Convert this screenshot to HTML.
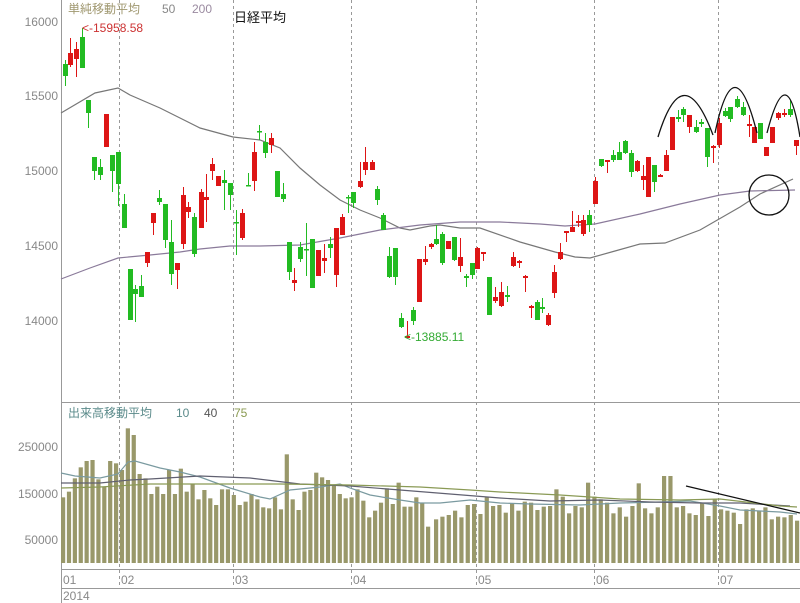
<!DOCTYPE html>
<html><head><meta charset="utf-8"><style>
html,body{margin:0;padding:0;background:#fff;}
svg{display:block;font-family:"Liberation Sans","Noto Sans CJK JP",sans-serif;}
</style></head><body>
<svg id="s" width="800" height="603" viewBox="0 0 800 603" xmlns="http://www.w3.org/2000/svg">
<rect width="800" height="603" fill="#fff"/>
<g stroke="#999" stroke-width="1" fill="none">
<line x1="61.5" y1="0" x2="61.5" y2="603"/>
<line x1="61" y1="402.5" x2="800" y2="402.5"/>
<line x1="61" y1="569.5" x2="800" y2="569.5"/>
<line x1="61" y1="588.5" x2="800" y2="588.5"/>
</g>
<g fill="#888" font-size="12" text-anchor="end">
<text x="58" y="26">16000</text><text x="58" y="100">15500</text><text x="58" y="175">15000</text>
<text x="58" y="250">14500</text><text x="58" y="325">14000</text>
<text x="58" y="451">250000</text><text x="58" y="498">150000</text><text x="58" y="544">50000</text>
</g>
<g fill="#888" font-size="12">
<text x="63" y="584">01</text><text x="121" y="584">02</text><text x="235" y="584">03</text>
<text x="353" y="584">04</text><text x="478" y="584">05</text><text x="596" y="584">06</text><text x="720" y="584">07</text>
<text x="63" y="600">2014</text>
</g>
<g id="grid" stroke="#999" stroke-dasharray="3,3" stroke-width="1"></g>
<g id="vol"></g>
<g id="vma" fill="none" stroke-width="1.2"></g>
<g id="pma" fill="none" stroke-width="1.2"></g>
<g id="cdl"></g>
<g fill="none" stroke="#111" stroke-width="1.3">
<path d="M658,137 Q683,55 713,135"/>
<path d="M715,133 Q734,42 757,133"/>
<path d="M767,133 Q787,55 800,137"/>
<circle cx="769" cy="195" r="20"/>
<line x1="686" y1="486" x2="800" y2="513"/>
</g>
<text x="68" y="13" font-size="12" fill="#a09870">単純移動平均</text>
<text x="162" y="13" font-size="12" fill="#888">50</text>
<text x="192" y="13" font-size="12" fill="#9a8aa0">200</text>
<text x="234" y="22" font-size="13" fill="#111">日経平均</text>
<text x="82" y="32" font-size="12" fill="#cc3333">&lt;-15958.58</text>
<text x="404" y="341" font-size="12" fill="#33aa33">&lt;-13885.11</text>
<text x="68" y="417" font-size="12" fill="#5a8a8a">出来高移動平均</text>
<text x="176" y="417" font-size="12" fill="#5a8a8a">10</text>
<text x="204" y="417" font-size="12" fill="#555">40</text>
<text x="234" y="417" font-size="12" fill="#8a9a50">75</text>
</svg>
<script>
var NS="http://www.w3.org/2000/svg";
function el(p,t,a){var e=document.createElementNS(NS,t);for(var k in a)e.setAttribute(k,a[k]);document.getElementById(p).appendChild(e);return e;}
[119,233,351,476,594,718].forEach(function(x){el("grid","line",{x1:x+.5,y1:0,x2:x+.5,y2:588});});
var C=[[65,64,76,60,86,"g"],[70,53,65,38,67,"r"],[76,49,59,42,77,"r"],[82,37,68,28,68,"g"],
[88,100,113,100,128,"g"],[94,157,171,157,180,"g"],[100,167,175,159,180,"g"],[106,114,147,114,147,"r"],[112,155,171,155,192,"g"],[118,152,184,152,206,"g"],[124,204,228,194,228,"g"],[130,269,320,269,320,"g"],[135,289,294,285,322,"g"],[141,286,297,275,297,"g"],[147,252,263,252,267,"r"],[153,213,223,213,235,"r"],[159,198,202,190,205,"g"],[165,204,240,204,248,"g"],[171,242,274,220,285,"g"],[177,263,270,263,289,"r"],[183,195,244,187,249,"r"],[188,207,212,202,218,"r"],[194,217,254,213,257,"g"],[201,192,228,189,228,"r"],[206,197,200,174,222,"r"],[212,164,171,158,180,"r"],[218,176,186,176,186,"r"],[224,180,183,170,210,"g"],[230,183,195,183,210,"g"],[236,222,223,210,255,"g"],[242,213,238,209,240,"r"],[248,185,186,173,186,"g"],[254,152,181,142,191,"r"],[259,131,132,125,140,"g"],[265,142,153,133,158,"g"],[271,138,145,133,153,"r"],[277,171,197,171,197,"g"],[283,194,199,183,202,"g"],
[289,242,272,242,280,"g"],[294,280,283,268,291,"r"],[300,247,259,242,262,"g"],[306,249,250,223,276,"g"],[312,239,288,239,288,"g"],[318,250,276,250,276,"r"],[324,258,261,244,273,"r"],[330,244,248,237,258,"g"],[336,228,275,228,287,"r"],[342,217,235,214,235,"r"],[348,197,198,195,213,"g"],[353,192,203,192,208,"g"],[360,181,187,162,188,"r"],[365,162,170,147,175,"r"],[372,162,170,160,170,"r"],[377,189,200,186,205,"g"],[383,215,230,213,230,"g"],[389,256,277,247,278,"g"],[395,248,277,248,285,"g"],[401,318,327,313,328,"g"],[407,336,338,321,338,"r"],[413,310,321,307,325,"g"],[419,259,302,259,302,"r"],[425,259,262,246,265,"r"],[431,244,247,243,249,"r"],[436,239,244,225,245,"g"],[442,234,263,232,265,"g"],[448,241,249,241,249,"r"],[454,237,260,237,261,"g"],[460,257,266,238,272,"r"],[466,276,278,274,287,"g"],[472,263,275,263,279,"g"],[477,248,269,247,269,"r"],[483,252,254,252,261,"r"],[489,277,315,277,315,"g"],[495,297,301,287,303,"r"],[501,292,306,282,307,"r"],[507,295,297,286,302,"g"],[513,257,266,252,267,"r"],[519,261,263,260,268,"r"],[525,276,278,275,292,"r"],[531,306,308,305,318,"r"],[537,302,320,300,320,"g"],[542,307,309,298,313,"g"],[548,315,325,313,326,"r"],[554,272,293,265,298,"r"],
[560,252,259,243,260,"r"],[566,231,233,231,242,"r"],[572,227,232,211,232,"r"],[578,221,223,215,227,"r"],[583,220,234,215,236,"r"],[589,215,225,210,232,"g"],[595,181,204,177,204,"r"],[601,159,166,159,167,"g"],[607,160,162,160,173,"r"],[613,155,160,150,162,"g"],[619,152,160,142,160,"g"],[625,141,153,140,154,"g"],[631,153,172,150,177,"g"],[637,161,171,160,172,"r"],[643,176,180,165,190,"r"],[648,157,197,157,197,"r"],[654,165,182,165,192,"g"],[660,175,177,174,177,"r"],[666,155,171,150,171,"r"],[672,117,150,117,150,"r"],[678,117,119,110,122,"g"],[683,109,115,107,122,"g"],[689,115,127,115,133,"r"],[696,127,132,120,133,"g"],[701,122,124,119,127,"g"],[707,128,157,128,167,"g"],[713,146,148,145,163,"r"],[719,123,145,118,148,"r"],[725,111,116,108,117,"g"],[730,107,119,107,122,"g"],[737,99,107,96,108,"g"],[743,107,115,102,116,"g"],[749,124,126,115,137,"r"],[754,127,143,127,143,"r"],[760,123,139,123,139,"g"],[766,147,156,147,156,"r"],[772,127,143,127,143,"r"],[778,113,118,112,120,"r"],[784,113,115,109,117,"r"],[790,109,115,100,117,"g"],[796,140,146,140,155,"r"]];
C.forEach(function(c){var col=c[5]=="r"?"#dd1515":"#22bb22";
el("cdl","line",{x1:c[0]+.5,y1:c[3],x2:c[0]+.5,y2:c[4],stroke:col,"stroke-width":1});
el("cdl","rect",{x:c[0]-2,y:c[1],width:5,height:Math.max(1.5,c[2]-c[1]),fill:col});});
var V1=[232,215,175,142,123,120,178,200,123,130,150,25,45,162,175,222,200,222,150,222,146,215,192,238,210,235,255,208,208,225,255,245,222,238,262,265,232,268,103,238,270,215,210,158,172,180,195,222,235,232,208,242,292,272,248,205,252,188,260,260,232,250,320];
var V2=[298,290,285,272,292,255,252,282,232,258,255,278,250,272,245,248,270,260,258,208,230,280,258,262,188,230,238,248,280,262,290,258,190,265,280,262,168,168,262,258,280,285,248,288,238,268,272,278,312,268,265,272,262,298,290,292,285,302];
function bars(arr,x0,x1){var st=(x1-x0)/(arr.length-1);arr.forEach(function(z,i){var y=420+z/3;el("vol","rect",{x:x0+i*st-2,y:y,width:4.2,height:563-y,fill:"#99986a"});});}
bars(V1,63,428);bars(V2,436,797);
function pl(g,pts,col){el(g,"polyline",{points:pts.map(function(p){return p.join(",")}).join(" "),stroke:col});}
pl("vma",[[61,473],[75,476],[100,478],[118,474],[128,462],[135,461],[160,468],[180,472],[200,477],[230,488],[260,497],[270,499],[290,490],[320,487],[340,484],[350,488],[370,495],[400,500],[420,503],[440,503],[470,500],[500,503],[530,504],[580,505],[620,503],[660,502],[690,501],[720,506],[740,510],[780,512],[797,514]],"#7a9aa0");
pl("vma",[[61,483],[100,483],[130,480],[150,479],[200,476],[250,478],[300,484],[350,486],[400,490],[450,494],[500,498],[550,501],[600,500],[650,502],[700,503],[740,503],[790,506]],"#606070");
pl("vma",[[61,488],[100,487],[150,484],[200,484],[280,484],[350,485],[420,487],[470,490],[500,492],[560,495],[620,499],[680,500],[720,499],[780,506],[797,507]],"#8a9a55");
pl("pma",[[61,113],[95,93],[118,88],[130,95],[160,108],[180,118],[200,128],[233,137],[260,140],[280,148],[300,168],[320,185],[340,200],[360,210],[380,218],[400,228],[410,230],[430,226],[440,225],[460,228],[480,228],[520,242],[555,252],[575,257],[590,258],[615,251],[640,244],[665,243],[700,230],[740,207],[760,194],[793,179]],"#777");
pl("pma",[[61,279],[90,268],[118,258],[150,255],[180,252],[200,249],[230,246],[260,246],[300,245],[340,238],[380,230],[420,225],[460,222],[500,222],[540,224],[565,226],[595,224],[640,214],[680,204],[720,195],[750,191],[795,190]],"#8a7a9a");
</script>
</body></html>
